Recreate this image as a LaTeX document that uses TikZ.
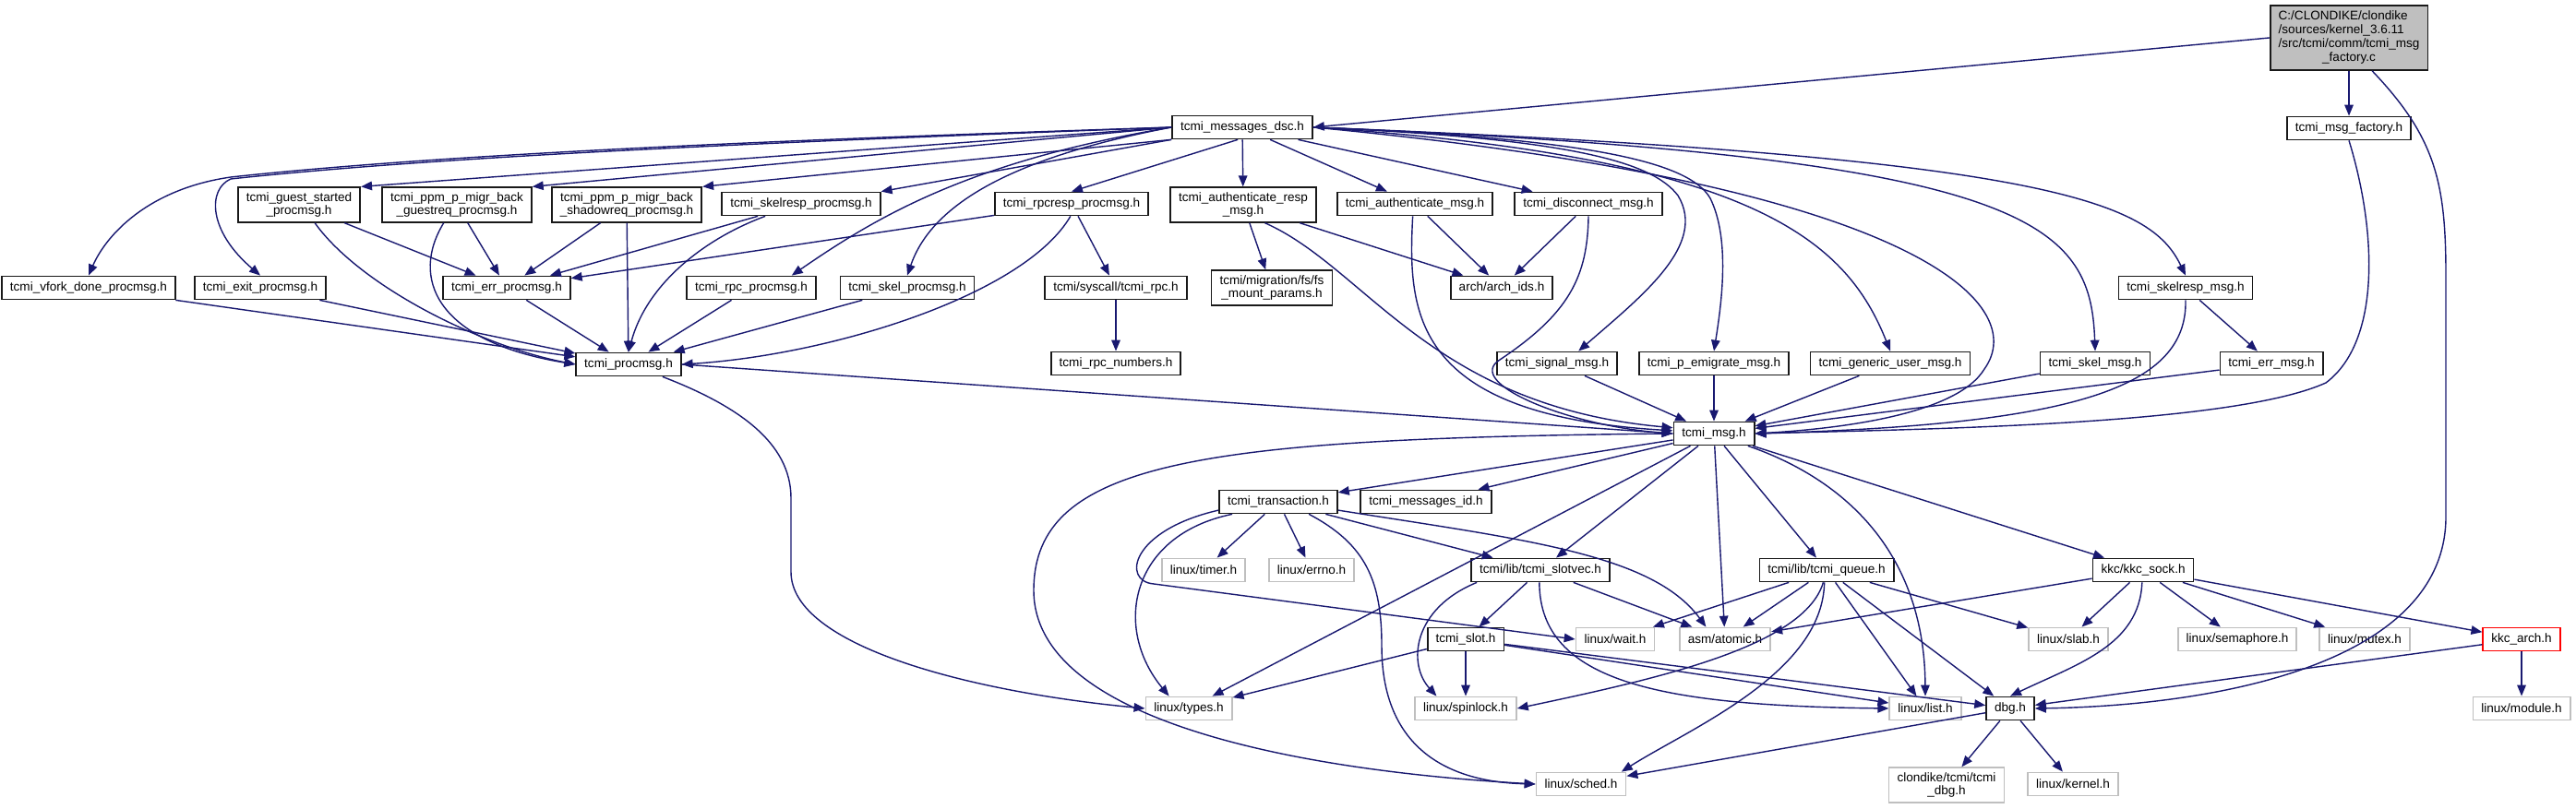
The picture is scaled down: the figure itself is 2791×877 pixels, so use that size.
\documentclass[tikz,border=0pt]{standalone}
\usepackage{fontspec}
\setmainfont{Liberation Sans}
\usetikzlibrary{arrows.meta}
\definecolor{edgeblue}{HTML}{191970}
\definecolor{sysgray}{HTML}{BFBFBF}
\definecolor{srcfill}{HTML}{BFBFBF}
\definecolor{archred}{HTML}{FF0000}

\begin{document}
\begin{tikzpicture}[x=0.01cm,y=-0.01cm,
 font=\fontsize{3.85}{4.25}\selectfont,
 hdr/.style={draw=black!90,fill=white,line width=0.5pt,inner xsep=0.09cm,inner ysep=0.05cm,minimum height=0.25cm,align=center},
 sys/.style={hdr,draw=sysgray},
 src/.style={hdr,fill=srcfill},
 bad/.style={hdr,draw=archred},
 arr/.style={-{Triangle[length=3.4pt,width=2.7pt]},draw=edgeblue,line width=0.4pt}]
\useasboundingbox (0,0) rectangle (2791,877);
% top
\node[src] (main) at (2545,41) {\begin{tabular}{@{}l@{}}C:/CLONDIKE/clondike\\/sources/kernel\_3.6.11\\/src/tcmi/comm/tcmi\_msg\\\multicolumn{1}{@{}c@{}}{\_factory.c}\end{tabular}};
\node[hdr] (fac) at (2545,139) {tcmi\_msg\_factory.h};
\node[hdr] (dsc) at (1346,138) {tcmi\_messages\_dsc.h};
% first row
\node[hdr] (guest) at (324,222) {tcmi\_guest\_started\\\_procmsg.h};
\node[hdr] (ppmg) at (495,222) {tcmi\_ppm\_p\_migr\_back\\\_guestreq\_procmsg.h};
\node[hdr] (ppms) at (679,222) {tcmi\_ppm\_p\_migr\_back\\\_shadowreq\_procmsg.h};
\node[hdr] (skelrespp) at (868,221) {tcmi\_skelresp\_procmsg.h};
\node[hdr] (rpcresp) at (1161,221) {tcmi\_rpcresp\_procmsg.h};
\node[hdr] (authr) at (1347,222) {tcmi\_authenticate\_resp\\\_msg.h};
\node[hdr] (authm) at (1533,221) {tcmi\_authenticate\_msg.h};
\node[hdr] (disc) at (1721,221) {tcmi\_disconnect\_msg.h};
% second row
\node[hdr] (vfork) at (96,312) {tcmi\_vfork\_done\_procmsg.h};
\node[hdr] (exitp) at (282,312) {tcmi\_exit\_procmsg.h};
\node[hdr] (errp) at (549,312) {tcmi\_err\_procmsg.h};
\node[hdr] (rpcp) at (814,312) {tcmi\_rpc\_procmsg.h};
\node[hdr] (skelp) at (983,312) {tcmi\_skel\_procmsg.h};
\node[hdr] (rpc) at (1209,312) {tcmi/syscall/tcmi\_rpc.h};
\node[hdr] (mig) at (1378,312) {tcmi/migration/fs/fs\\\_mount\_params.h};
\node[hdr] (arch) at (1627,312) {arch/arch\_ids.h};
\node[hdr] (skelrm) at (2368,312) {tcmi\_skelresp\_msg.h};
% third row
\node[hdr] (procmsg) at (681,395) {tcmi\_procmsg.h};
\node[hdr] (rpcnum) at (1209,394) {tcmi\_rpc\_numbers.h};
\node[hdr] (signal) at (1687,394) {tcmi\_signal\_msg.h};
\node[hdr] (emig) at (1857,394) {tcmi\_p\_emigrate\_msg.h};
\node[hdr] (gen) at (2048,394) {tcmi\_generic\_user\_msg.h};
\node[hdr] (skelm) at (2270,394) {tcmi\_skel\_msg.h};
\node[hdr] (errm) at (2461,394) {tcmi\_err\_msg.h};
\node[hdr] (msg) at (1857,470) {tcmi\_msg.h};
% lower part
\node[hdr] (trans) at (1385,544) {tcmi\_transaction.h};
\node[hdr] (msgid) at (1545,544) {tcmi\_messages\_id.h};
\node[sys] (timer) at (1304,618) {linux/timer.h};
\node[sys] (errno) at (1421,618) {linux/errno.h};
\node[hdr] (slotvec) at (1669,618) {tcmi/lib/tcmi\_slotvec.h};
\node[hdr] (queue) at (1979,618) {tcmi/lib/tcmi\_queue.h};
\node[hdr] (sock) at (2322,618) {kkc/kkc\_sock.h};
\node[hdr] (slot) at (1588,693) {tcmi\_slot.h};
\node[sys] (wait) at (1750,693) {linux/wait.h};
\node[sys] (atomic) at (1869,693) {asm/atomic.h};
\node[sys] (slab) at (2241,693) {linux/slab.h};
\node[sys] (sema) at (2424,693) {linux/semaphore.h};
\node[sys] (mutex) at (2562,693) {linux/mutex.h};
\node[bad] (karch) at (2732,693) {kkc\_arch.h};
\node[sys] (types) at (1288,768) {linux/types.h};
\node[sys] (spin) at (1588,768) {linux/spinlock.h};
\node[sys] (list) at (2086,768) {linux/list.h};
\node[hdr] (dbg) at (2178,768) {dbg.h};
\node[sys] (module) at (2732,768) {linux/module.h};
\node[sys] (sched) at (1713,850) {linux/sched.h};
\node[sys] (cdbg) at (2109,851) {clondike/tcmi/tcmi\\\_dbg.h};
\node[sys] (kernel) at (2246,850) {linux/kernel.h};
% from the source file
\draw[arr] (main.west)--(dsc.east); \draw[arr] (main)--(fac);
\draw[arr] (main.-55) .. controls (2640,150) and (2650,200) .. (2650,300) -- (2650,560) .. controls (2650,720) and (2400,765) .. (dbg.east);
\draw[arr] (fac.south) .. controls (2575,250) and (2580,370) .. (2520,415) .. controls (2420,460) and (2100,465) .. (msg.east);
% from tcmi_messages_dsc.h
\draw[arr] (dsc.west) .. controls (900,150) and (500,165) .. (250,192) .. controls (160,205) and (115,255) .. (vfork.north);
\draw[arr] (dsc.west) .. controls (900,152) and (500,167) .. (250,194) .. controls (225,205) and (225,250) .. (exitp.north);
\draw[arr] (dsc.west)--(guest.north east); \draw[arr] (dsc.west)--(ppmg.north east);
\draw[arr] (dsc.south west)--(ppms.north east); \draw[arr] (dsc.south west)--(skelrespp.north east);
\draw[arr] (dsc.west) .. controls (1050,175) and (950,235) .. (rpcp.17);
\draw[arr] (dsc.west) .. controls (1100,170) and (1010,220) .. (skelp.north);
\draw[arr] (dsc.-110)--(rpcresp.north); \draw[arr] (dsc)--(authr); \draw[arr] (dsc)--(authm); \draw[arr] (dsc)--(disc);
\draw[arr] (dsc.east) .. controls (1700,150) and (1790,175) .. (1818,212) .. controls (1850,265) and (1780,320) .. (signal.30);
\draw[arr] (dsc.east) .. controls (1720,150) and (1830,175) .. (1853,215) .. controls (1875,260) and (1865,330) .. (emig.north);
\draw[arr] (dsc.east) .. controls (1900,170) and (2000,260) .. (gen.north);
\draw[arr] (dsc.east) .. controls (2080,200) and (2200,330) .. (2150,400) .. controls (2120,450) and (1990,465) .. (msg.east);
\draw[arr] (dsc.east) .. controls (2200,170) and (2265,240) .. (skelm.north);
\draw[arr] (dsc.east) .. controls (2230,170) and (2330,220) .. (skelrm.north);
% procmsg group
\draw[arr] (guest)--(errp); \draw[arr] (ppmg)--(errp); \draw[arr] (ppms)--(errp);
\draw[arr] (skelrespp)--(errp); \draw[arr] (rpcresp)--(errp);
\draw[arr] (guest.-49) .. controls (390,310) and (520,375) .. (procmsg.west);
\draw[arr] (ppmg.-126) .. controls (445,300) and (470,370) .. (procmsg.west);
\draw[arr] (ppms)--(procmsg); \draw[arr] (vfork)--(procmsg); \draw[arr] (exitp)--(procmsg); \draw[arr] (errp)--(procmsg);
\draw[arr] (rpcp)--(procmsg); \draw[arr] (skelp)--(procmsg);
\draw[arr] (skelrespp.-161) .. controls (760,260) and (700,310) .. (procmsg.north);
\draw[arr] (rpcresp.-95) .. controls (1110,320) and (900,385) .. (procmsg.east);
\draw[arr] (rpcresp)--(rpc); \draw[arr] (rpc)--(rpcnum);
\draw[arr] (procmsg.east)--(msg.west);
\draw[arr] (procmsg.-20) .. controls (800,440) and (857,480) .. (857,540) -- (857,620) .. controls (857,700) and (1050,750) .. (types.west);
% message headers
\draw[arr] (authr)--(mig); \draw[arr] (authr)--(arch); \draw[arr] (authm)--(arch); \draw[arr] (disc)--(arch);
\draw[arr] (authr.-40) .. controls (1480,290) and (1550,440) .. (msg.172);
\draw[arr] (authm.-100) .. controls (1525,340) and (1530,450) .. (msg.176);
\draw[arr] (disc.south) .. controls (1720,300) and (1700,340) .. (1625,390) .. controls (1585,415) and (1700,462) .. (msg.180);
\draw[arr] (signal)--(msg); \draw[arr] (emig)--(msg); \draw[arr] (gen)--(msg); \draw[arr] (skelm)--(msg); \draw[arr] (errm)--(msg);
\draw[arr] (skelrm)--(errm);
\draw[arr] (skelrm.-90) .. controls (2370,420) and (2250,460) .. (msg.east);
% from tcmi_msg.h
\draw[arr] (msg)--(trans); \draw[arr] (msg)--(msgid); \draw[arr] (msg)--(slotvec); \draw[arr] (msg)--(types);
\draw[arr] (msg)--(atomic); \draw[arr] (msg)--(queue); \draw[arr] (msg)--(sock);
\draw[arr] (msg.-20) .. controls (2000,520) and (2085,600) .. (list.north);
\draw[arr] (msg.west) .. controls (1300,475) and (1120,500) .. (1120,640) .. controls (1120,780) and (1400,835) .. (sched.west);
% transaction and slots
\draw[arr] (trans)--(timer); \draw[arr] (trans)--(errno); \draw[arr] (trans)--(slotvec);
\draw[arr] (trans.195) .. controls (1225,580) and (1205,680) .. (types.148);
\draw[arr] (trans.188) .. controls (1225,575) and (1215,630) .. (1250,633) -- (wait.west);
\draw[arr] (trans.-22) .. controls (1480,590) and (1497,630) .. (1497,700) .. controls (1497,820) and (1580,848) .. (sched.west);
\draw[arr] (trans.-8) .. controls (1650,585) and (1790,600) .. (atomic.147);
\draw[arr] (slotvec)--(slot); \draw[arr] (slotvec)--(atomic);
\draw[arr] (slotvec.-169) .. controls (1530,660) and (1525,720) .. (spin.157);
\draw[arr] (slotvec.-95) .. controls (1668,740) and (1800,765) .. (list.west);
\draw[arr] (slot)--(spin); \draw[arr] (slot)--(types); \draw[arr] (slot)--(list); \draw[arr] (slot)--(dbg);
% queue and sockets
\draw[arr] (queue)--(wait); \draw[arr] (queue)--(atomic); \draw[arr] (queue)--(slab); \draw[arr] (queue)--(list); \draw[arr] (queue)--(dbg);
\draw[arr] (queue.-105) .. controls (1955,700) and (1800,735) .. (spin.east);
\draw[arr] (queue.-100) .. controls (1975,730) and (1830,790) .. (sched.17);
\draw[arr] (sock)--(atomic); \draw[arr] (sock)--(slab); \draw[arr] (sock)--(sema); \draw[arr] (sock)--(mutex); \draw[arr] (sock)--(karch);
\draw[arr] (sock.-95) .. controls (2318,700) and (2250,720) .. (dbg.north);
\draw[arr] (karch)--(dbg); \draw[arr] (karch)--(module);
\draw[arr] (dbg)--(cdbg); \draw[arr] (dbg)--(kernel); \draw[arr] (dbg)--(sched);
\end{tikzpicture}
\end{document}
